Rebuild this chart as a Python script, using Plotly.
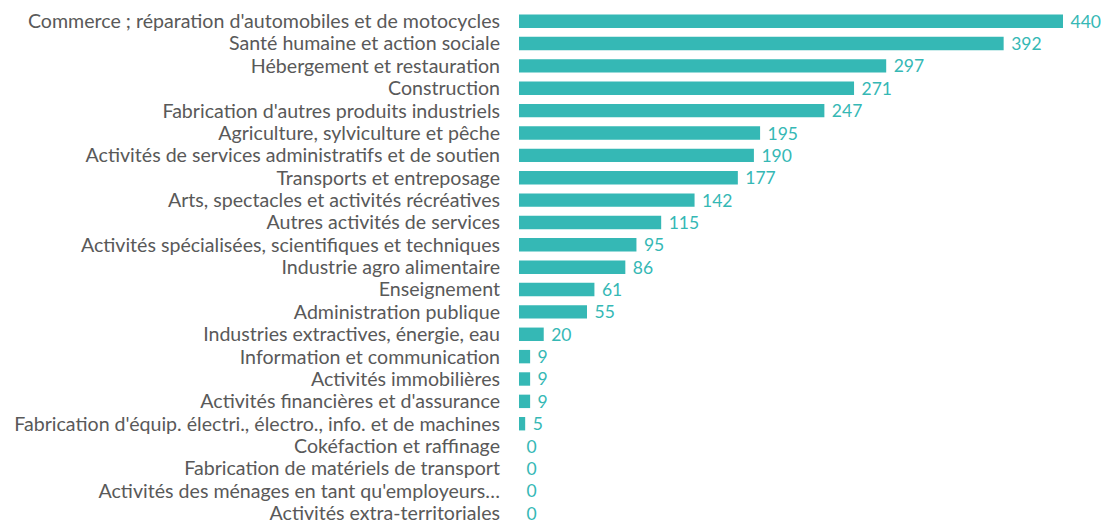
import plotly.graph_objects as go

categories = [
    "Commerce ; réparation d'automobiles et de motocycles",
    "Santé humaine et action sociale",
    "Hébergement et restauration",
    "Construction",
    "Fabrication d'autres produits industriels",
    "Agriculture, sylviculture et pêche",
    "Activités de services administratifs et de soutien",
    "Transports et entreposage",
    "Arts, spectacles et activités récréatives",
    "Autres activités de services",
    "Activités spécialisées, scientifiques et techniques",
    "Industrie agro alimentaire",
    "Enseignement",
    "Administration publique",
    "Industries extractives, énergie, eau",
    "Information et communication",
    "Activités immobilières",
    "Activités financières et d'assurance",
    "Fabrication d'équip. électri., électro., info. et de machines",
    "Cokéfaction et raffinage",
    "Fabrication de matériels de transport",
    "Activités des ménages en tant qu'employeurs…",
    "Activités extra-territoriales",
]
values = [440, 392, 297, 271, 247, 195, 190, 177, 142, 115, 95, 86, 61, 55, 20, 9, 9, 9, 5, 0, 0, 0, 0]

TEAL = "#35B8B5"
GRAY = "#595959"
FONT = "Lato"
FS = 19.6

fig = go.Figure(go.Bar(
    x=values,
    y=categories,
    orientation="h",
    marker=dict(color=TEAL, line=dict(width=0)),
    width=0.6,
    text=values,
    texttemplate="\u00a0%{x}",
    textposition="outside",
    constraintext="none",
    textfont=dict(color=TEAL, size=17.5, family=FONT),
    cliponaxis=False,
    hoverinfo="skip",
))

fig.update_layout(
    width=1107,
    height=521,
    margin=dict(l=519, r=44, t=10, b=0, autoexpand=False),
    paper_bgcolor="white",
    plot_bgcolor="white",
    showlegend=False,
    font=dict(family=FONT, size=FS, color=GRAY),
    xaxis=dict(range=[0, 440], visible=False, showgrid=False, zeroline=False, automargin=False),
    yaxis=dict(
        categoryorder="array",
        categoryarray=categories,
        tickmode="array",
        tickvals=categories,
        ticktext=categories,
        range=[22.35, -0.5],
        showgrid=False,
        zeroline=False,
        showline=False,
        ticks="",
        automargin=False,
        ticklabelstandoff=18,
        tickfont=dict(family=FONT, size=FS, color=GRAY),
    ),
)

fig.write_html(
    "out.html",
    config={"displayModeBar": False},
    post_script="document.body.style.margin='0';document.body.style.overflow='hidden';",
)
